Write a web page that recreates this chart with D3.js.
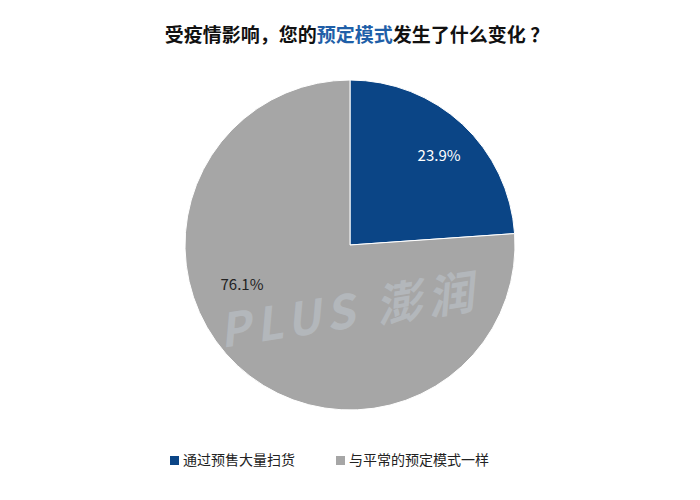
<!DOCTYPE html>
<html><head><meta charset="utf-8">
<script src="https://cdn.jsdelivr.net/npm/d3@7"></script>
<style>body{margin:0;background:#fff}</style>
</head><body>
<script>
const categories = ["通过预售大量扫货", "与平常的预定模式一样"];
const values = [23.9, 76.1];
const labels = ["23.9%", "76.1%"];
const colors = ["#0b4586", "#a6a6a6"];

const W = 700, H = 500;
const svg = d3.select("body").append("svg").attr("width", W).attr("height", H);
const font = "'Noto Sans CJK SC', sans-serif";

const title = svg.append("text").attr("x", 357).attr("y", 42).attr("text-anchor", "middle")
  .style("font-family", font).style("font-size", "19px").style("font-weight", "bold").attr("fill", "#111");
title.append("tspan").text("受疫情影响，您的");
title.append("tspan").attr("fill", "#1f5fa8").text("预定模式");
title.append("tspan").text("发生了什么变化 ？");

const cx = 350, cy = 245, r = 165;
const pie = d3.pie().sort(null)(values);
const arc = d3.arc().innerRadius(0).outerRadius(r);
const g = svg.append("g").attr("transform", `translate(${cx},${cy})`);
g.selectAll("path").data(pie).join("path").attr("d", arc)
  .attr("fill", (d, i) => colors[i]).attr("stroke", "#fff").attr("stroke-width", 1);

const lblArc = d3.arc().innerRadius(r * 0.72).outerRadius(r * 0.72);
g.selectAll("text.lbl").data(pie).join("text").attr("class", "lbl")
  .attr("transform", (d, i) => {
    const c = lblArc.centroid(d);
    return i === 1 ? `translate(${-108},${40})` : `translate(${c[0] + 8},${c[1] - 2})`;
  })
  .attr("text-anchor", "middle").attr("dy", "0.35em")
  .style("font-family", font).style("font-size", "15px")
  .attr("fill", (d, i) => i === 0 ? "#fff" : "#222").text((d, i) => labels[i]);

// watermark
svg.append("text").attr("transform", "translate(222,348) rotate(-9)")
  .style("font-family", font).style("font-size", "46px").style("font-weight", "bold")
  .style("font-style", "italic").attr("fill", "#c8d2dc").attr("opacity", 0.4)
  .attr("letter-spacing", "6px").text("PLUS 澎润");

const lx = [170, 336];
const lg = svg.append("g");
categories.forEach((c, i) => {
  lg.append("rect").attr("x", lx[i]).attr("y", 456).attr("width", 9).attr("height", 9).attr("fill", colors[i]);
  lg.append("text").attr("x", lx[i] + 13).attr("y", 465).style("font-family", font)
    .style("font-size", "14px").attr("fill", "#222").text(c);
});
</script>
</body></html>
